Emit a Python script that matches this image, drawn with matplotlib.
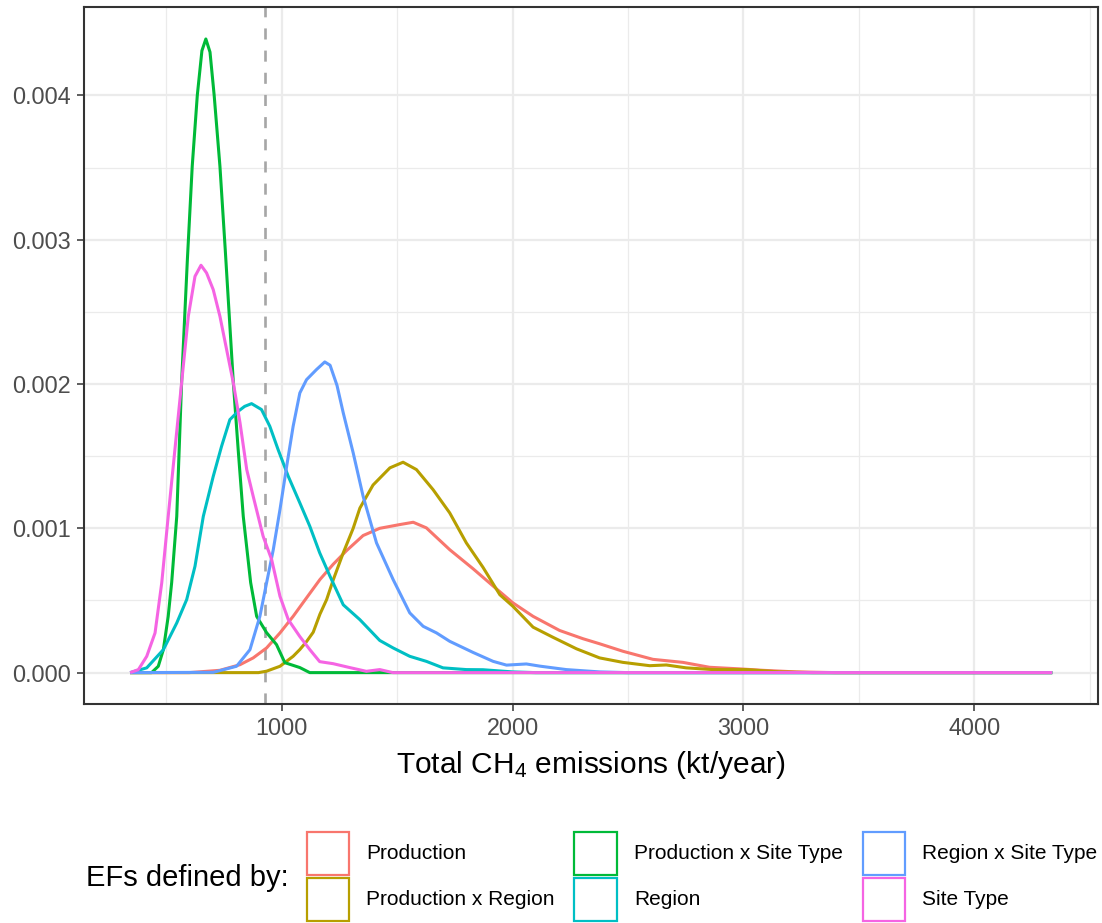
import matplotlib
matplotlib.use("Agg")
import matplotlib.pyplot as plt
from matplotlib.patches import Rectangle
import numpy as np

plt.rcParams["font.family"] = ["Liberation Sans", "DejaVu Sans"]
plt.rcParams["mathtext.fontset"] = "custom"
plt.rcParams["mathtext.rm"] = "Liberation Sans"
plt.rcParams["mathtext.it"] = "Liberation Sans:italic"

# Kernel density estimates of total CH4 emissions (kt/year) per EF scheme
production_x = [344, 600, 733, 820, 877, 935, 993, 1050, 1108, 1166, 1223, 1281, 1353,
                1425, 1512, 1570, 1627, 1728, 1829, 1916, 2002, 2089, 2204, 2305, 2377,
                2478, 2608, 2738, 2853, 2983, 3084, 3228, 3400, 4337]
production_y = [0, 0, 0.016, 0.055, 0.102, 0.171, 0.275, 0.390, 0.518, 0.645, 0.750, 0.845,
                0.950, 1.000, 1.026, 1.042, 1.003, 0.852, 0.720, 0.600, 0.483, 0.390, 0.292,
                0.235, 0.200, 0.148, 0.092, 0.071, 0.037, 0.026, 0.016, 0.005, 0, 0]

prod_region_x = [344, 900, 935, 993, 1050, 1079, 1108, 1137, 1166, 1195, 1223, 1267, 1310,
                 1339, 1396, 1469, 1526, 1584, 1656, 1728, 1800, 1872, 1945, 2002, 2089,
                 2175, 2277, 2377, 2478, 2594, 2666, 2752, 2868, 3012, 3156, 3300, 4337]
prod_region_y = [0, 0, 0.010, 0.044, 0.113, 0.160, 0.215, 0.280, 0.405, 0.506, 0.640, 0.830,
                 1.000, 1.140, 1.300, 1.419, 1.458, 1.407, 1.268, 1.107, 0.899, 0.730, 0.540,
                 0.459, 0.315, 0.245, 0.165, 0.102, 0.071, 0.048, 0.053, 0.033, 0.021, 0.021,
                 0.005, 0, 0]

prod_site_x = [344, 437, 466, 488, 509, 524, 546, 567, 592, 613, 635, 655, 672, 690, 708,
               733, 756, 791, 812, 834, 866, 892, 935, 978, 1014, 1079, 1122, 4337]
prod_site_y = [0, 0, 0.044, 0.159, 0.390, 0.624, 1.083, 2.010, 2.862, 3.509, 4.001, 4.310,
               4.391, 4.300, 4.001, 3.509, 2.931, 2.010, 1.545, 1.083, 0.624, 0.390, 0.277,
               0.194, 0.069, 0.035, 0, 0]

region_x = [344, 416, 488, 546, 589, 625, 661, 704, 740, 776, 812, 840, 870, 913, 949, 985,
            1029, 1079, 1122, 1165, 1209, 1267, 1339, 1425, 1483, 1555, 1627, 1699, 1800,
            1872, 2000, 2100, 4337]
region_y = [0, 0.033, 0.159, 0.344, 0.506, 0.737, 1.083, 1.360, 1.568, 1.753, 1.811, 1.845,
            1.864, 1.823, 1.707, 1.545, 1.360, 1.176, 1.015, 0.830, 0.670, 0.470, 0.367,
            0.223, 0.171, 0.113, 0.078, 0.033, 0.021, 0.020, 0.005, 0, 0]

region_site_x = [344, 704, 805, 863, 906, 935, 964, 993, 1022, 1050, 1079, 1108, 1151, 1187,
                 1210, 1240, 1267, 1310, 1353, 1411, 1483, 1555, 1613, 1671, 1728, 1829, 1916,
                 1974, 2060, 2118, 2233, 2377, 2500, 4337]
region_site_y = [0, 0.002, 0.044, 0.159, 0.390, 0.622, 0.852, 1.130, 1.430, 1.707, 1.938,
                 2.030, 2.100, 2.153, 2.130, 1.990, 1.800, 1.523, 1.222, 0.899, 0.645, 0.414,
                 0.321, 0.275, 0.217, 0.140, 0.078, 0.052, 0.060, 0.045, 0.021, 0.005, 0, 0]

site_x = [344, 380, 416, 452, 481, 509, 538, 567, 596, 625, 651, 675, 704, 733, 762, 791,
          820, 849, 877, 920, 957, 993, 1029, 1079, 1122, 1165, 1223, 1295, 1367, 1425,
          1482, 4337]
site_y = [0, 0.021, 0.113, 0.275, 0.622, 1.083, 1.545, 2.008, 2.469, 2.746, 2.823, 2.770,
          2.654, 2.469, 2.238, 2.008, 1.731, 1.407, 1.222, 0.945, 0.783, 0.529, 0.367, 0.250,
          0.160, 0.076, 0.062, 0.035, 0.009, 0.021, 0, 0]

labels = ["Production", "Production x Region", "Production x Site Type",
          "Region", "Region x Site Type", "Site Type"]
colors = ["#F8766D", "#B79F00", "#00BA38", "#00BFC4", "#619CFF", "#F564E3"]
reference_value = 930  # kt/year

series = [
    (production_x, production_y),
    (prod_region_x, prod_region_y),
    (prod_site_x, prod_site_y),
    (region_x, region_y),
    (region_site_x, region_site_y),
    (site_x, site_y),
]

W, H = 1102, 923
fig = plt.figure(figsize=(W / 100, H / 100), dpi=100)
ax = fig.add_axes([84 / W, 1 - 704.3 / H, (1098.3 - 84) / W, (704.3 - 7.3) / H])

for (xs, ys), c in zip(series, colors):
    ax.plot(np.array(xs), np.array(ys) * 1e-3, color=c, lw=2.2, solid_capstyle="butt",
            solid_joinstyle="round", zorder=3)

ax.axvline(reference_value, color="#A6A6A6", lw=1.9, dashes=(4.2, 4.2), zorder=2)

# ggplot-style limits with 5% expansion
all_x = np.concatenate([np.array(s[0], float) for s in series])
all_y = np.concatenate([np.array(s[1], float) * 1e-3 for s in series])
xr = all_x.max() - all_x.min()
yr = all_y.max() - all_y.min()
ax.set_xlim(all_x.min() - 0.05 * xr, all_x.max() + 0.05 * xr)
ax.set_ylim(all_y.min() - 0.05 * yr, all_y.max() + 0.05 * yr)

ax.set_xticks([1000, 2000, 3000, 4000])
ax.set_xticks([500, 1500, 2500, 3500, 4500], minor=True)
ax.set_yticks([0, 0.001, 0.002, 0.003, 0.004])
ax.set_yticks([0.0005, 0.0015, 0.0025, 0.0035], minor=True)
ax.set_yticklabels(["0.000", "0.001", "0.002", "0.003", "0.004"])
ax.set_xticklabels(["1000", "2000", "3000", "4000"])

ax.grid(which="major", color="#EBEBEB", lw=1.6, zorder=0)
ax.grid(which="minor", color="#EBEBEB", lw=0.9, zorder=0)
ax.set_axisbelow(True)
ax.tick_params(which="major", length=4.8, width=1.1, color="#333333",
               labelcolor="#4D4D4D", labelsize=16.8, pad=4.5)
ax.tick_params(which="minor", length=0)
for s in ax.spines.values():
    s.set_color("#333333")
    s.set_linewidth(1.5)

ax.set_xlabel("Total CH$_4$ emissions (kt/year)", fontsize=21.5, color="black",
              labelpad=6)

# legend laid out below the panel
def fx(px):
    return px / W

def fy(py):
    return 1 - py / H

fig.text(fx(86.5), fy(878), "EFs defined by:", fontsize=21, va="center", ha="left")
col_left = [306.6, 574.4, 862.5]
row_top = [832.3, 878.3]
kw, kh = 42.5, 43.0
for i, (lab, c) in enumerate(zip(labels, colors)):
    col, row = i // 2, i % 2
    x0 = col_left[col]
    y0 = row_top[row]
    rect = Rectangle((fx(x0), fy(y0 + kh)), kw / W, kh / H, transform=fig.transFigure,
                     facecolor="white", edgecolor=c, lw=1.6)
    fig.add_artist(rect)
    fig.text(fx(x0 + 59.5), fy(y0 + kh / 2), lab, fontsize=15, va="center", ha="left")

fig.savefig("out.png", dpi=100)
